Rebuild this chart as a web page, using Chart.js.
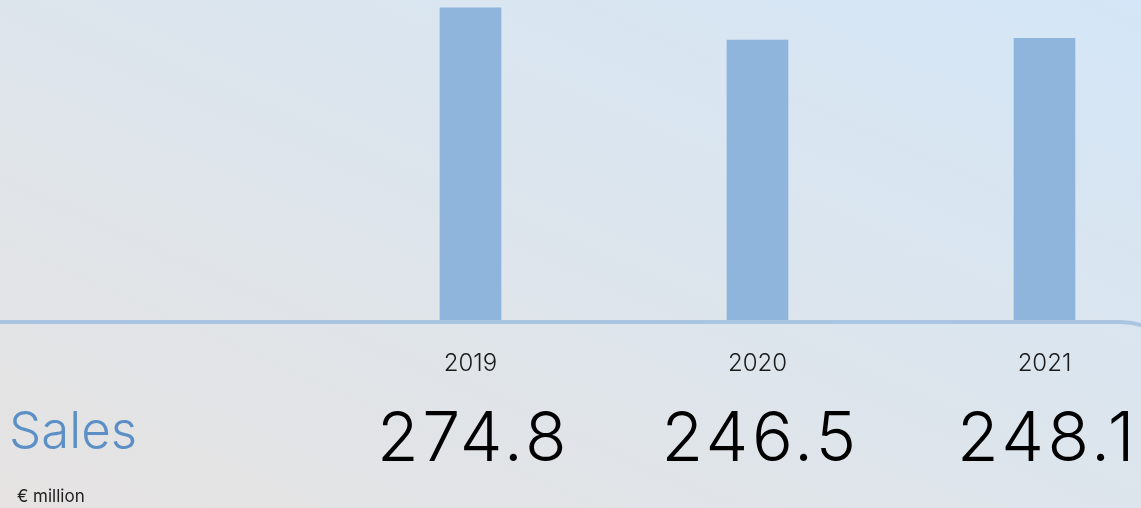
<!DOCTYPE html>
<html>
<head>
<meta charset="utf-8">
<script src="https://cdn.jsdelivr.net/npm/chart.js@4.4.1/dist/chart.umd.min.js"></script>
<style>
  html, body { margin: 0; padding: 0; }
  body {
    width: 1141px; height: 508px; overflow: hidden; position: relative;
    background: linear-gradient(to top right, #e6e3e2 0%, #dde5ec 50%, #d4e6f7 100%);
    font-family: Inter, "Noto Sans", sans-serif;
  }
  #chart { position: absolute; left: 0; top: 0; }
  .title { position: absolute; left: 9px; top: 404px; font-size: 51px; line-height: 1; font-weight: 300; color: #5b8fc6; }
  .unit { position: absolute; left: 17px; top: 488px; font-size: 17px; line-height: 1; color: #222; }
</style>
</head>
<body>
<canvas id="chart" width="1141" height="508"></canvas>
<div class="title">Sales</div>
<div class="unit">€ million</div>
<script>
// ---- data ----
const years = ['2019', '2020', '2021'];
const sales = [274.8, 246.5, 248.1];

const barColor = '#90b5dc';
const lineColor = '#a9c5e2';

// year labels + big values under each bar, plus the panel edge
const yearValues = {
  id: 'yearValues',
  afterDatasetsDraw(chart) {
    const { ctx, chartArea, scales } = chart;
    const y0 = chartArea.bottom + 2;

    ctx.save();
    ctx.strokeStyle = lineColor;
    ctx.lineWidth = 4;
    ctx.beginPath();
    ctx.moveTo(-10, y0);
    ctx.arcTo(1195, y0, 1195, 520, 75);
    ctx.stroke();

    ctx.textAlign = 'center';
    ctx.textBaseline = 'alphabetic';
    years.forEach((yr, i) => {
      const x = scales.x.getPixelForValue(i);
      ctx.fillStyle = '#1a1a1a';
      ctx.letterSpacing = '0px';
      ctx.font = '300 24px Inter, sans-serif';
      ctx.fillText(yr, x, 371);
      ctx.fillStyle = '#000';
      ctx.letterSpacing = '3.5px';
      ctx.font = '300 68px Inter, sans-serif';
      ctx.fillText(sales[i].toFixed(1), x + 3, 461);
    });
    ctx.restore();
  }
};

new Chart(document.getElementById('chart'), {
  type: 'bar',
  data: {
    labels: years,
    datasets: [{ data: sales, backgroundColor: barColor, barThickness: 61, clip: false }]
  },
  options: {
    responsive: false,
    animation: false,
    layout: { padding: { left: 470.5, right: 96.5, top: 0, bottom: 188 } },
    plugins: { legend: { display: false }, tooltip: { enabled: false } },
    scales: {
      x: { display: false, offset: false },
      y: { display: false, min: 0, max: 281.8 }
    }
  },
  plugins: [yearValues]
});
</script>
</body>
</html>
